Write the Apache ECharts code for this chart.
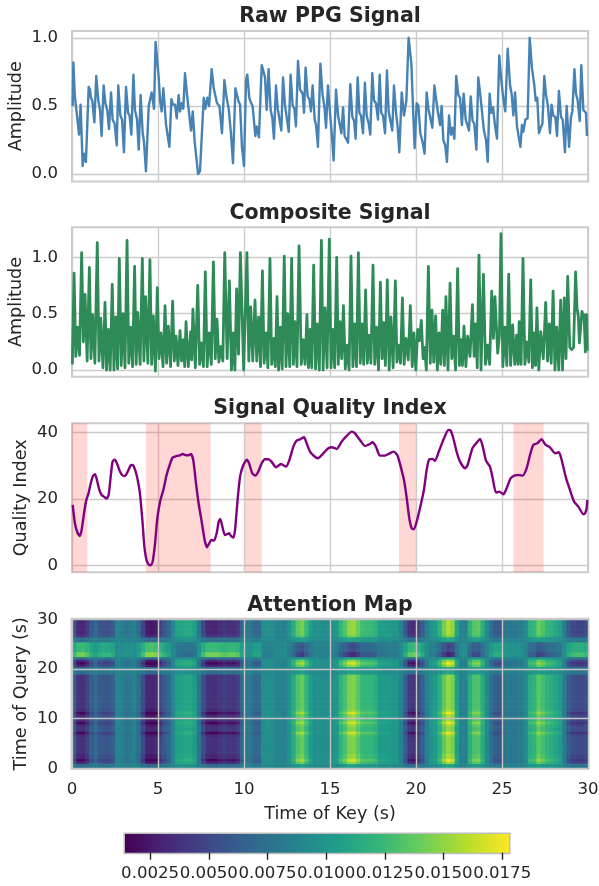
<!DOCTYPE html>
<html><head><meta charset="utf-8">
<style>html,body{margin:0;padding:0;background:#fff}#c{width:599px;height:886px}</style>
<script src="https://cdn.jsdelivr.net/npm/echarts@6/dist/echarts.min.js"></script>
</head><body><div id="c"></div>
<script>
const rawTimes=[.04,.08,.16,.23,.41,.50,.62,.70,.81,.97,1.05,1.10,1.18,1.30,1.41,1.53,1.63,1.72,1.84,1.94,2.05,2.15,2.27,2.36,2.48,2.60,2.69,2.81,2.91,3.02,3.14,3.26,3.35,3.45,3.57,3.66,3.78,3.88,3.99,4.11,4.19,4.30,4.46,4.63,4.69,4.77,4.86,4.94,5.04,5.12,5.21,5.31,5.41,5.47,5.56,5.66,5.78,5.87,5.99,6.09,6.20,6.28,6.38,6.47,6.57,6.69,6.78,6.92,7.02,7.13,7.21,7.33,7.44,7.54,7.66,7.75,7.87,7.97,8.12,8.24,8.33,8.43,8.57,8.72,8.86,8.99,9.11,9.24,9.36,9.50,9.57,9.69,9.77,9.88,10.0,10.12,10.19,10.31,10.39,10.50,10.66,10.74,10.79,10.87,11.03,11.22,11.32,11.43,11.55,11.65,11.74,11.86,11.96,12.05,12.17,12.27,12.38,12.48,12.60,12.71,12.83,12.93,13.02,13.14,13.26,13.41,13.49,13.58,13.70,13.80,13.89,13.99,14.11,14.19,14.30,14.44,14.57,14.67,14.77,14.88,15.0,15.10,15.21,15.35,15.47,15.56,15.66,15.76,15.85,15.95,16.05,16.18,16.30,16.40,16.49,16.61,16.71,16.80,16.92,17.03,17.13,17.25,17.34,17.46,17.56,17.67,17.79,17.89,17.98,18.08,18.20,18.31,18.41,18.51,18.62,18.72,18.84,18.93,19.03,19.17,19.30,19.44,19.57,19.73,19.81,19.92,20.04,20.14,20.25,20.39,20.50,20.62,20.72,20.81,20.95,21.07,21.18,21.28,21.40,21.49,21.59,21.70,21.80,21.92,22.03,22.13,22.23,22.34,22.46,22.56,22.67,22.77,22.89,22.98,23.08,23.18,23.29,23.39,23.51,23.62,23.74,23.84,23.95,24.07,24.17,24.28,24.38,24.48,24.59,24.71,24.84,24.96,25.07,25.19,25.33,25.47,25.56,25.66,25.76,25.87,25.97,26.07,26.16,26.24,26.36,26.49,26.61,26.74,26.88,26.96,27.05,27.15,27.25,27.35,27.46,27.56,27.67,27.79,27.88,27.98,28.10,28.20,28.31,28.43,28.53,28.66,28.76,28.90,29.01,29.09,29.21,29.30,29.40,29.52,29.61,29.73,29.83,29.88,29.94];
const rawValues=[.50,.82,.58,.58,.29,.51,.06,.15,.09,.64,.62,.56,.54,.38,.72,.54,.47,.28,.65,.52,.47,.33,.60,.40,.37,.21,.65,.43,.40,.16,.64,.45,.43,.29,.73,.47,.40,.18,.58,.30,.23,.02,.50,.60,.59,.48,.97,.97,.71,.54,.46,.63,.46,.36,.35,.20,.55,.51,.51,.41,.58,.46,.52,.48,.74,.58,.57,.32,.46,.24,.23,0,.02,.02,.56,.48,.56,.50,.77,.63,.62,.52,.50,.30,.69,.56,.48,.30,.08,.63,.63,.53,.51,.20,.06,.69,.73,.56,.53,.50,.28,.35,.34,.27,.80,.71,.47,.77,.47,.41,.26,.65,.48,.47,.32,.71,.51,.50,.31,.73,.50,.48,.35,.83,.62,.59,.45,.78,.57,.55,.46,.65,.40,.36,.20,.81,.58,.50,.34,.65,.45,.30,.10,.62,.43,.42,.30,.49,.28,.28,.23,.66,.42,.39,.26,.71,.45,.43,.30,.67,.43,.37,.29,.74,.54,.52,.40,.73,.45,.43,.30,.76,.46,.45,.32,.65,.45,.35,.16,.60,.43,.54,1.0,.81,.54,.19,.52,.50,.30,.23,.15,.60,.48,.47,.34,.65,.54,.45,.36,.50,.25,.21,.09,.43,.29,.34,.26,.72,.58,.56,.36,.59,.40,.39,.32,.57,.39,.37,.18,.71,.58,.58,.32,.25,.09,.59,.45,.49,.36,.26,.87,.69,.56,.46,.92,.65,.59,.43,.60,.35,.34,.20,.36,.31,.40,.41,1.0,.78,.65,.54,.56,.30,.34,.37,.72,.58,.50,.30,.51,.43,.42,.28,.61,.42,.40,.16,.50,.20,.42,.46,.77,.59,.54,.39,.80,.47,.46,.45,.28];

const compositeTimes=[.02,.12,.22,.33,.44,.56,.66,.76,.88,1.01,1.10,1.20,1.33,1.47,1.57,1.67,1.80,1.92,2.01,2.11,2.22,2.34,2.44,2.54,2.65,2.75,2.86,2.97,3.08,3.20,3.30,3.41,3.52,3.64,3.73,3.82,3.96,4.09,4.18,4.28,4.41,4.53,4.63,4.73,4.85,4.96,5.06,5.17,5.29,5.41,5.50,5.60,5.73,5.85,5.95,6.05,6.16,6.28,6.37,6.47,6.55,6.63,6.76,6.90,6.96,7.03,7.17,7.31,7.42,7.54,7.64,7.75,7.86,7.98,8.10,8.22,8.33,8.43,8.54,8.66,8.77,8.88,9.02,9.15,9.27,9.38,9.47,9.57,9.68,9.79,9.98,10.17,10.28,10.39,10.51,10.64,10.74,10.85,10.96,11.07,11.17,11.28,11.39,11.51,11.61,11.71,11.82,11.92,12.01,12.11,12.22,12.34,12.44,12.54,12.66,12.77,12.87,12.96,13.08,13.20,13.33,13.45,13.55,13.66,13.75,13.84,13.94,14.05,14.16,14.26,14.38,14.50,14.60,14.71,14.83,14.96,15.06,15.16,15.27,15.39,15.48,15.58,15.68,15.78,15.89,16.0,16.11,16.22,16.33,16.43,16.54,16.65,16.76,16.86,16.96,17.07,17.17,17.27,17.38,17.50,17.60,17.71,17.82,17.93,18.03,18.13,18.22,18.33,18.44,18.54,18.67,18.80,18.89,18.99,19.10,19.21,19.31,19.42,19.55,19.67,19.78,19.88,19.99,20.10,20.20,20.31,20.41,20.50,20.6,20.72,20.83,20.93,21.03,21.14,21.24,21.34,21.44,21.55,21.65,21.74,21.86,21.98,22.08,22.19,22.3,22.42,22.52,22.62,22.7,22.79,22.9,23.0,23.14,23.28,23.38,23.47,23.56,23.66,23.78,23.92,24.04,24.16,24.28,24.40,24.5,24.59,24.75,24.85,24.94,25.05,25.17,25.28,25.39,25.5,25.62,25.74,25.85,25.93,26.0,26.11,26.22,26.33,26.45,26.56,26.67,26.77,26.86,26.95,27.03,27.14,27.25,27.4,27.54,27.65,27.75,27.86,27.97,28.08,28.18,28.3,28.41,28.52,28.62,28.72,28.82,28.94,29.05,29.16,29.28,29.36,29.44,29.50,29.65,29.72,29.77,29.85,29.92,29.96];
const compositeValues=[.05,.86,.12,.38,.13,1.04,.25,.67,.08,.91,.10,.49,.06,1.13,.08,.46,.02,.60,0,.36,0,.76,0,.47,.01,.99,.04,.50,.02,1.15,.06,.38,.03,.92,.05,.51,.05,.99,.08,.65,.06,.98,.05,.48,-.01,.73,.1,.33,.03,.57,.06,.39,.03,.61,.08,.30,.04,.35,.08,.27,.03,.43,.03,.34,.09,.54,.02,.75,.05,.24,.03,.87,.03,.33,.05,.96,.1,.45,.07,.21,.08,1.04,.1,.79,0,.33,0,.72,.14,1.04,0,1.04,.08,.56,.08,.62,.08,.47,.03,.88,.06,.33,.02,.99,.05,.28,.03,.65,0,.38,.01,1.01,.03,.50,.03,.99,.05,.43,.03,1.10,.05,.27,.05,.49,.02,.36,.02,.93,.01,.41,0,1.15,0,.55,.02,1.16,.02,.36,.02,1.0,.05,.43,.1,.57,.01,.22,0,1.01,.03,.41,.03,1.04,.06,.41,.05,.71,.06,.31,.06,.93,.05,.38,0,.78,.1,.42,.04,.80,0,.47,.02,.79,.07,.22,.06,.64,.05,.28,.09,.57,.03,.33,0,.36,.26,.44,.1,.2,0,.92,.06,.53,.07,.48,0,.33,.05,.53,.04,.65,0,.77,.1,.30,0,.90,.04,.27,.04,.39,.03,.30,.12,.58,.12,.41,.02,1.02,0,.85,.05,.22,.05,.70,.28,.65,.15,.3,1.21,.03,.38,.04,.85,.04,.40,.05,.31,.05,.43,.05,.99,.05,.25,.07,.80,.02,.33,.04,.55,0,.34,.1,.60,.08,.41,.06,.70,0,.38,0,.62,0,.64,.1,.83,.2,.18,.2,.87,.55,.47,.24,.52,.47,.49,.16,.49,.17];

const qualityTimes=[.04,.17,.33,.45,.56,.70,.81,.97,1.09,1.22,1.34,1.45,1.59,1.72,1.86,2.02,2.13,2.25,2.36,2.48,2.60,2.75,2.91,3.08,3.24,3.41,3.53,3.66,3.80,3.95,4.09,4.21,4.34,4.48,4.57,4.69,4.83,4.96,5.12,5.31,5.50,5.70,5.85,6.09,6.28,6.43,6.63,6.78,6.92,7.05,7.21,7.36,7.54,7.71,7.85,7.98,8.10,8.26,8.41,8.53,8.62,8.74,8.88,8.99,9.13,9.24,9.38,9.48,9.61,9.77,9.96,10.17,10.31,10.48,10.66,10.83,11.03,11.22,11.41,11.6,11.86,12.15,12.44,12.64,12.87,13.06,13.26,13.49,13.64,13.84,14.07,14.30,14.61,14.90,15.10,15.39,15.68,15.97,16.26,16.45,16.74,17.03,17.32,17.47,17.67,17.90,18.19,18.48,18.71,18.93,19.11,19.30,19.45,19.61,19.75,19.88,20.04,20.23,20.46,20.62,20.77,20.97,21.1,21.36,21.63,21.88,22.02,22.17,22.36,22.56,22.85,23.0,23.28,23.53,23.73,23.88,24.07,24.30,24.46,24.65,24.85,25.08,25.27,25.5,25.75,25.95,26.20,26.43,26.63,26.82,27.05,27.30,27.54,27.79,28.08,28.31,28.47,28.70,28.95,29.19,29.44,29.73,29.83,29.92,29.96];
const qualityValues=[18.2,12.7,9.7,8.9,10.7,15.7,19.2,21.9,24.7,26.9,27.4,25.7,22.7,21.2,20.7,20.1,21.2,26.7,31.2,31.8,30.9,28.7,27.2,26.9,28.2,30.1,30.2,28.9,26.2,21.7,13.7,5.7,1.5,.2,.1,1.2,6.7,14.2,19.2,22.7,27.2,30.5,32.4,32.9,33.1,33.5,33.1,33.1,33.5,31.7,24.7,18.7,13.2,7.7,5.5,6.7,7.7,7.5,9.7,13.2,14,11.7,9.2,9.4,9.7,8.9,8.4,10.7,18.7,26.7,30.2,31.8,30.5,27.7,27,28.2,30.7,31.9,31.9,31.2,29.5,30.5,29.7,31.7,35.7,37.5,37.9,38.5,36.7,34.2,32.9,32.2,33.7,35.2,35.5,35,37.2,38.9,40.2,39.7,37.7,35.9,36.5,37,35.7,33,33,33.7,34.2,33,29.7,25.7,20.7,14.2,11.2,10.9,13.2,17.2,22.7,28.7,31.9,32,31.4,34.7,38.2,40.7,40.5,38.2,34.2,31.2,29.2,30.2,35.2,36.9,38,35.7,31.5,29.7,26.2,21.9,22.2,21.4,23.2,26.2,27.1,27.2,27,29.2,33.2,36.2,36.7,37.9,36.2,35.5,33.7,34,31.7,26.7,22.7,19.2,17.7,15.4,15.7,17.2,19.7];
const lowQualitySpans=[[0,.89],[4.30,8.06],[10.06,11.03],[19.01,20.0],[25.66,27.42]];

// Attention read per key-time column (0.25 s wide), in units of 0.0001, one list per kind of query row.
const bodyRow=[55,33,31,42,60,70,58,54,55,62,88,85,78,80,85,72,48,26,24,28,44,58,68,90,108,110,112,112,106,78,50,33,31,31,36,40,36,35,40,65,80,80,68,68,94,96,95,88,88,86,98,115,136,143,125,105,95,96,94,95,96,100,122,134,150,153,140,127,125,125,120,106,105,104,100,100,86,62,38,34,46,62,85,98,104,120,142,158,150,108,86,85,118,134,136,115,92,72,60,60,76,80,80,80,82,92,118,122,140,132,122,118,112,106,82,60,50,48,47,52];
const softRow=[59,39,37,47,63,72,61,58,59,65,88,86,79,81,86,74,52,32,31,34,49,61,70,90,106,108,110,110,104,79,54,39,37,37,41,45,41,40,45,68,81,81,70,70,94,95,95,88,88,86,97,113,131,138,122,104,95,95,94,95,95,99,119,130,144,147,135,123,122,122,117,104,104,103,99,99,86,65,43,40,50,65,86,97,103,117,137,151,144,106,86,86,115,130,131,113,92,74,63,63,77,81,81,81,83,92,115,119,135,128,119,115,110,104,83,63,54,52,51,56];
const strongRow=[46,19,16,30,52,65,50,45,46,55,88,84,75,78,84,68,38,15,15,15,32,50,62,90,112,115,118,118,110,75,40,19,16,16,22,28,22,21,28,59,78,78,62,62,95,98,96,88,88,85,100,121,148,156,134,109,96,98,95,96,98,102,130,145,165,169,152,136,134,134,128,110,109,108,102,102,85,55,25,20,35,55,84,100,108,128,155,175,165,112,85,84,125,145,148,121,92,68,52,52,72,78,78,78,80,92,125,130,152,142,130,125,118,110,80,52,40,38,36,42];
const faintRow=[80,73,72,76,81,84,80,79,80,82,89,88,86,87,88,85,77,71,70,71,76,80,83,90,95,96,97,97,95,86,78,73,72,72,74,75,74,74,75,82,87,87,83,83,91,92,92,89,89,89,92,98,104,106,100,95,92,92,91,92,92,93,100,103,108,109,105,101,100,100,99,95,94,94,93,93,89,82,74,73,77,82,88,92,94,99,106,110,108,95,89,88,98,103,104,98,91,85,81,81,86,87,87,87,88,91,98,100,105,103,100,98,97,95,88,81,78,77,77,79];
const invertedRow=[111,124,125,119,108,102,109,112,111,107,91,93,97,96,93,101,115,128,130,127,118,109,103,90,79,78,77,77,80,97,114,124,125,125,122,120,122,123,120,105,96,96,103,103,88,86,87,91,91,92,85,75,62,58,69,81,87,86,88,87,86,84,71,64,54,52,60,68,69,69,72,80,81,82,84,84,92,107,121,124,116,107,93,85,82,72,59,49,54,79,92,93,73,64,62,75,89,101,108,108,98,96,96,96,95,89,73,71,60,65,71,73,77,80,95,108,114,115,116,113];
const invertedPeakRow=[122,141,143,133,117,108,119,122,122,115,92,95,101,99,95,106,128,148,149,146,131,119,110,90,74,72,70,70,76,101,126,141,143,143,139,135,139,140,135,112,99,99,110,110,86,85,86,92,92,94,83,68,49,42,58,76,86,85,86,86,85,81,61,50,36,33,45,57,58,58,63,76,76,77,81,81,94,115,137,140,130,115,94,83,77,63,43,29,36,74,94,95,65,50,49,68,88,106,117,117,103,99,99,99,97,88,65,61,45,52,61,65,70,76,97,117,126,128,129,124];
// Which list each 0.5 s query row shows, from the bottom row (0 s) to the top row (30 s).
const B=bodyRow,M=softRow,S=strongRow,F=faintRow,I=invertedRow,J=invertedPeakRow;
const queryRows=[F,F,B,S,B,B,M,M,M,M,M,M,M,B,S,M,M,B,S,B,B,B,S,B,M,M,M,M,M,M,M,M,M,M,M,M,M,M,F,F,F,B,S,B,F,J,J,I,I,I,I,F,F,M,B,B,B,B,B,B];

const rawTicks=[0,.5,1];
const compositeTicks=[0,.5,1];
const qualityTicks=[0,20,40];
const queryTicks=[0,10,20,30];
const colorbarTicks=[.0025,.005,.0075,.01,.0125,.015,.0175];
const colorMin=.00143,colorMax=.01779;
const viridis=['#440154','#482878','#3e4989','#31688e','#26828e','#1f9e89','#35b779','#6ece58','#b5de2b','#fde725'];

const FONT='"DejaVu Sans"',INK='#262626',GRID='#cccccc',TICK=16.6,LABEL=17.6;
const zip=(a,b)=>a.map((x,i)=>[x,b[i]]);
const cells=[];
queryRows.forEach((row,r)=>row.forEach((v,c)=>cells.push([c*.25,r*.5,v/1e4])));

const layout=[[31,150.5],[227.3,149.4],[423.3,149],[619.3,149]];
const grids=layout.map(([top,height],i)=>({left:72,width:516,top,height,outerBoundsMode:'none',show:true,backgroundColor:'#fff',borderColor:GRID,borderWidth:i===3?3:2}));
grids.push({left:125,width:384,top:834,height:18.7,outerBoundsMode:'none',show:true,backgroundColor:'#fff',borderColor:'#bdbdbd',borderWidth:3});

const yAxis=(i,min,max,ticks,name,gap,digits,extra)=>Object.assign({type:'value',gridIndex:i,min,max,name,nameLocation:'middle',nameGap:gap,nameMoveOverlap:false,
  nameTextStyle:{fontFamily:FONT,fontSize:LABEL,color:INK},
  axisLine:{show:false},axisTick:{show:false,customValues:ticks},
  axisLabel:{customValues:ticks,fontFamily:FONT,fontSize:TICK,color:INK,margin:14,padding:[6,0,0,0],hideOverlap:false,showMinLabel:true,showMaxLabel:true,formatter:v=>v.toFixed(digits)},
  splitLine:{show:true,lineStyle:{color:GRID,width:1.4}}},extra||{});
const xAxis=(i,labels,extra)=>Object.assign({type:'value',gridIndex:i,min:0,max:30,interval:5,
  axisLine:{show:false},axisTick:{show:false},
  axisLabel:{show:labels,fontFamily:FONT,fontSize:TICK,color:INK,margin:12.5},
  splitLine:{show:true,lineStyle:{color:GRID,width:1.4}}},extra||{});
const line=(i,times,values,color,width)=>({type:'line',xAxisIndex:i,yAxisIndex:i,data:zip(times,values),showSymbol:false,symbol:'none',
  lineStyle:{color,width,join:'round'},clip:true,silent:true});

const title=(text,y)=>({text,left:330,top:y,padding:0,textAlign:'center',textStyle:{fontFamily:FONT,fontWeight:'bold',fontSize:20.5,color:INK}});

const quality=line(2,qualityTimes,qualityValues,'#800080',2.4);
quality.smooth=0.2;
quality.markArea={silent:true,itemStyle:{color:'rgba(255,60,50,0.2)'},data:lowQualitySpans.map(([a,b])=>[{xAxis:a},{xAxis:b}])};

const option={animation:false,backgroundColor:'#fff',
 title:[title('Raw PPG Signal',6),title('Composite Signal',203),title('Signal Quality Index',398),title('Attention Map',595)],
 grid:grids,
 visualMap:{show:false,type:'continuous',seriesIndex:3,dimension:2,min:colorMin,max:colorMax,inRange:{color:viridis}},
 xAxis:[xAxis(0,false),xAxis(1,false),xAxis(2,false),
   xAxis(3,true,{z:5,name:'Time of Key (s)',nameLocation:'middle',nameGap:37,nameTextStyle:{fontFamily:FONT,fontSize:LABEL,color:INK},
     splitLine:{show:true,lineStyle:{color:'#c4c4c4',width:1.4}}}),
   {type:'value',gridIndex:4,min:colorMin,max:colorMax,z:5,axisLine:{show:false},
    axisTick:{show:true,customValues:colorbarTicks,length:7,lineStyle:{color:INK,width:1.4}},
    axisLabel:{customValues:colorbarTicks,fontFamily:FONT,fontSize:TICK,color:INK,margin:12.5,hideOverlap:false,formatter:v=>v.toFixed(4)},
    splitLine:{show:false}}],
 yAxis:[yAxis(0,-.054,1.05,rawTicks,'Amplitude',47,1),yAxis(1,-.0595,1.266,compositeTicks,'Amplitude',47,1),
   yAxis(2,-2,42.7,qualityTicks,'Quality Index',42,0),
   yAxis(3,0,30,queryTicks,'Time of Query (s)',42,0,{z:5,splitLine:{show:true,lineStyle:{color:'#c4c4c4',width:1.4}}}),
   {type:'value',gridIndex:4,min:0,max:1,show:false}],
 series:[line(0,rawTimes,rawValues,'#4682b4',2.4),line(1,compositeTimes,compositeValues,'#2e8b57',2.8),quality,
  {type:'custom',xAxisIndex:3,yAxisIndex:3,data:cells,silent:true,clip:true,encode:{x:0,y:1},
   renderItem(params,api){
     const a=api.coord([api.value(0),api.value(1)+.5]),b=api.coord([api.value(0)+.25,api.value(1)]);
     return {type:'rect',shape:{x:a[0],y:a[1],width:b[0]-a[0]+.6,height:b[1]-a[1]+.6},style:{fill:api.visual('color')}};
   }},
  {type:'custom',xAxisIndex:4,yAxisIndex:4,data:[[colorMin,colorMax]],silent:true,encode:{x:[0,1]},
   renderItem(params,api){
     const a=api.coord([api.value(0),1]),b=api.coord([api.value(1),0]);
     return {type:'rect',shape:{x:a[0],y:a[1],width:b[0]-a[0],height:b[1]-a[1]},
       style:{fill:new echarts.graphic.LinearGradient(0,0,1,0,viridis.map((color,i)=>({offset:i/(viridis.length-1),color})))}};
   }}]
};
echarts.init(document.getElementById('c'),null,{renderer:'canvas'}).setOption(option);
</script></body></html>
